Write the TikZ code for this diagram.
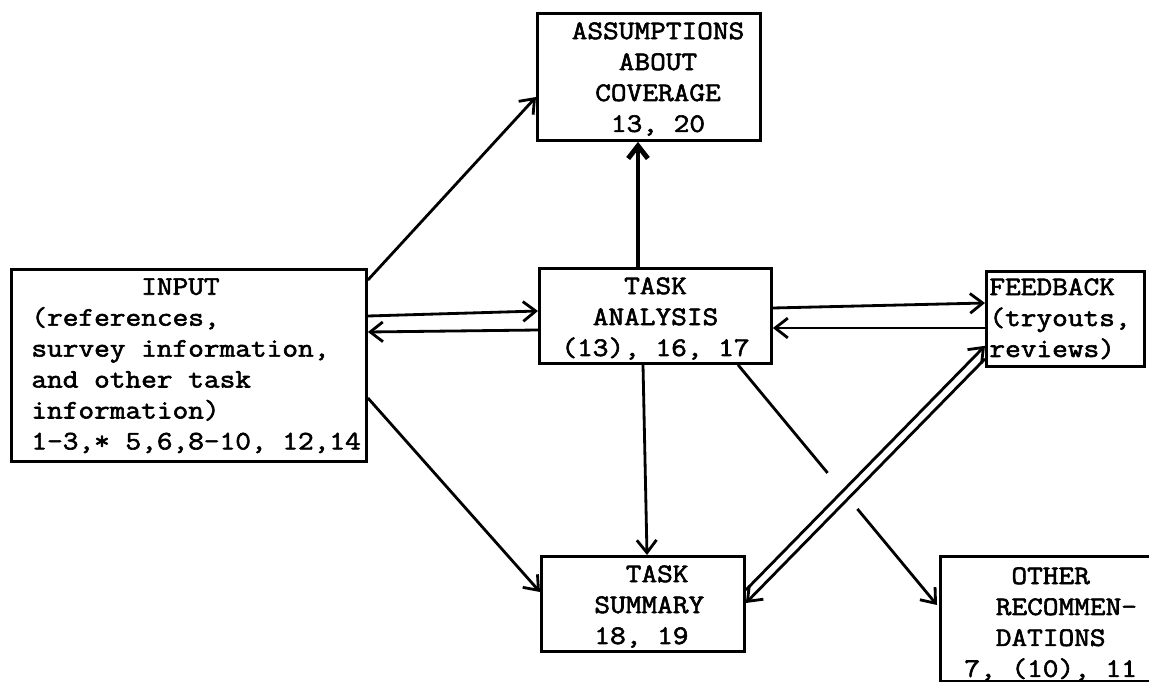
\documentclass[tikz,border=0pt]{standalone}
\usepackage{fontspec}
\newfontfamily\typewriter[FakeStretch=1.14, FakeBold=2.2]{Latin Modern Mono}
\usetikzlibrary{positioning,arrows.meta}

\begin{document}
\begin{tikzpicture}[x=0.025cm, y=-0.025cm, line width=2pt,
    box/.style={draw, rectangle, anchor=north west, inner sep=0pt},
    words/.style={font=\typewriter\fontsize{19}{22}\selectfont, inner sep=0pt, anchor=north west, align=left},
    flow/.style={-{Straight Barb[length=9pt, width=14pt]}}]

    \useasboundingbox (0,0) rectangle (1149,682);

    % boxes
    \node[box, minimum width=8.875cm, minimum height=4.8cm] (input) at (10,268) {};
    \node[box, minimum width=5.575cm, minimum height=3.175cm] (assum) at (536,12) {};
    \node[box, minimum width=5.8cm, minimum height=2.375cm] (ta) at (538,267) {};
    \node[box, minimum width=3.95cm, minimum height=2.375cm] (feedback) at (985,270) {};
    \node[box, minimum width=5.075cm, minimum height=2.375cm] (summary) at (540,555) {};
    \node[box, minimum width=5.375cm, minimum height=3.125cm] (other) at (939,555) {};

    % texts
    \node[words] (input-text) at (30,277) {~~~~~~~INPUT\\(references,\\survey information,\\and other task\\information)\\1-3,* 5,6,8-10, 12,14};
    \node[words, anchor=north, align=center] (assum-text) at (658,21) {ASSUMPTIONS\\ABOUT\\COVERAGE\\13, 20};
    \node[words] (ta-text) at (560,276) {~~~~TASK\\~~ANALYSIS\\(13), 16, 17};
    \node[words] (feedback-text) at (988,277) {FEEDBACK\\(tryouts,\\reviews)};
    \node[words] (summary-text) at (593,564) {~~TASK\\SUMMARY\\18, 19};
    \node[words] (other-text) at (963,566) {~~~OTHER\\~~RECOMMEN-\\~~DATIONS\\7, (10), 11};

    % connectors
    \draw[flow] ([shift={(0,12)}]input.north east) -- ([shift={(0,85)}]assum.north west);
    \draw[flow, line width=3.5pt] ([shift={(100,0)}]ta.north west) -- ([shift={(102,0)}]assum.south west);
    \draw[flow] ([shift={(0,48)}]input.north east) -- ([shift={(0,44)}]ta.north west);
    \draw[flow] ([shift={(0,63)}]ta.north west) -- ([shift={(0,64)}]input.north east);
    \draw[flow] ([shift={(0,41)}]ta.north east) -- ([shift={(0,33)}]feedback.north west);
    \draw[flow] ([shift={(0,58)}]feedback.north west) -- ([shift={(0,61)}]ta.north east);
    \draw[flow] ([shift={(105,0)}]ta.south west) -- ([shift={(107,0)}]summary.north west);
    \draw[flow] ([shift={(0,130)}]input.north east) -- ([shift={(0,37)}]summary.north west);
    \draw[flow] ([shift={(0,35)}]summary.north east) -- ([shift={(0,-22)}]feedback.south west);
    \draw[flow] ([shift={(0,-9)}]feedback.south west) -- ([shift={(0,48)}]summary.north east);
    \path ([shift={(200,0)}]ta.south west) -- coordinate[pos=0.45] (gap-a) coordinate[pos=0.6] (gap-b) ([shift={(-2,50)}]other.north west);
    \draw ([shift={(200,0)}]ta.south west) -- (gap-a);
    \draw[flow] (gap-b) -- ([shift={(-2,50)}]other.north west);
\end{tikzpicture}
\end{document}
